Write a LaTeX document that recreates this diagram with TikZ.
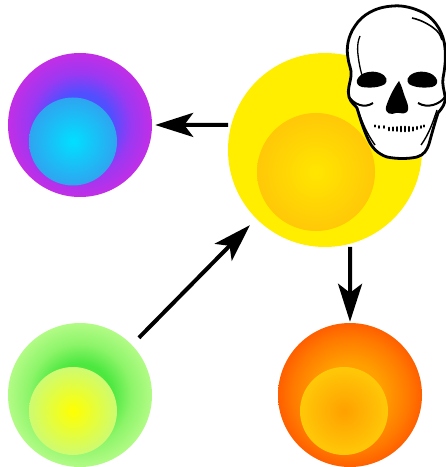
\documentclass[tikz,border=0pt]{standalone}
\usetikzlibrary{arrows.meta}
\definecolor{pA}{HTML}{C22EE6}\definecolor{pB}{HTML}{9C38F2}\definecolor{pC}{HTML}{4F50FF}
\definecolor{cA}{HTML}{00E0FF}\definecolor{cB}{HTML}{2FA4F0}
\definecolor{gA}{HTML}{B2FB86}\definecolor{gB}{HTML}{8EF56A}\definecolor{gC}{HTML}{4CE840}
\definecolor{lA}{HTML}{FFFF00}\definecolor{lB}{HTML}{CDFB72}
\definecolor{oA}{HTML}{FF5F00}\definecolor{oB}{HTML}{FF7A00}\definecolor{oC}{HTML}{FFA000}
\definecolor{qA}{HTML}{FFA000}\definecolor{qB}{HTML}{FFC808}
\definecolor{yA}{HTML}{FFEE00}\definecolor{zA}{HTML}{FFE600}\definecolor{zB}{HTML}{FFC808}
\pgfdeclareradialshading{purpleball}{\pgfpoint{0bp}{0bp}}{color(0bp)=(pC);color(11bp)=(pC);color(18bp)=(pB);color(25bp)=(pA);color(50bp)=(pA)}
\pgfdeclareradialshading{cyanball}{\pgfpoint{0bp}{0bp}}{color(0bp)=(cA);color(25bp)=(cB);color(50bp)=(cB)}
\pgfdeclareradialshading{greenball}{\pgfpoint{0bp}{0bp}}{color(0bp)=(gC);color(11bp)=(gC);color(18bp)=(gB);color(25bp)=(gA);color(50bp)=(gA)}
\pgfdeclareradialshading{limeball}{\pgfpoint{0bp}{0bp}}{color(0bp)=(lA);color(25bp)=(lB);color(50bp)=(lB)}
\pgfdeclareradialshading{orangeball}{\pgfpoint{0bp}{0bp}}{color(0bp)=(oC);color(11bp)=(oC);color(20bp)=(oB);color(25bp)=(oA);color(50bp)=(oA)}
\pgfdeclareradialshading{amberball}{\pgfpoint{0bp}{0bp}}{color(0bp)=(qA);color(25bp)=(qB);color(50bp)=(qB)}
\pgfdeclareradialshading{goldball}{\pgfpoint{0bp}{0bp}}{color(0bp)=(zA);color(25bp)=(zB);color(50bp)=(zB)}
\tikzset{
  bigball/.style={circle,inner sep=0pt,minimum size=144bp},
  smallball/.style={circle,inner sep=0pt,minimum size=88bp},
  link/.style={line width=4bp,black,-{Stealth[length=38bp,width=24bp,inset=9bp]}},
}
\begin{document}
\begin{tikzpicture}[x=1bp,y=-1bp]
\useasboundingbox (0,0) rectangle (446,467);
\node[bigball,shading=purpleball] (purple) at (80,125) {};
\node[smallball,shading=cyanball] (cyan) at (73,141.5) {};
\node[bigball,shading=greenball] (green) at (80,395) {};
\node[smallball,shading=limeball] (lime) at (73,411) {};
\node[bigball,shading=orangeball] (orange) at (350,395) {};
\node[smallball,shading=amberball] (amber) at (344,411) {};
\node[circle,inner sep=0pt,minimum size=194bp,fill=yA] (yellow) at (325,150) {};
\node[circle,inner sep=0pt,minimum size=118bp,shading=goldball] (gold) at (316,172) {};
\draw[link,shorten <=3bp,shorten >=3bp] (yellow.165) -- (purple.east);
\draw[link,shorten <=10bp,shorten >=9bp] (green.44) -- (yellow.225);
\draw[link,shorten <=3bp,shorten >=1bp] (yellow.-75) -- (orange.north);
% skull
\draw[fill=white,line width=2.8bp,line join=round]
  (393,6) .. controls (375,7) and (362,15) .. (355,26)
  .. controls (348,36) and (346,48) .. (348,58)
  .. controls (349,66) and (352,70) .. (351,76)
  .. controls (350,84) and (347,90) .. (349,97)
  .. controls (351,103) and (355,105) .. (357,108)
  .. controls (360,118) and (363,128) .. (368,139)
  .. controls (372,148) and (378,154) .. (387,157)
  .. controls (397,159) and (408,159) .. (417,157)
  .. controls (424,155) and (427,150) .. (429,144)
  .. controls (432,133) and (435,122) .. (438,113)
  .. controls (442,108) and (446,104) .. (445,96)
  .. controls (444,90) and (442,84) .. (443,78)
  .. controls (445,68) and (446,58) .. (445,48)
  .. controls (444,34) and (436,20) .. (424,13)
  .. controls (414,8) and (403,5) .. (393,6) -- cycle;
\fill (357,80) .. controls (360,72) and (372,70) .. (380,73)
  .. controls (387,76) and (388,81) .. (385,84)
  .. controls (379,88) and (369,88) .. (362,87)
  .. controls (358,86) and (356,83) .. (357,80) -- cycle;
\fill (437,80) .. controls (434,72) and (422,70) .. (414,73)
  .. controls (407,76) and (406,81) .. (409,84)
  .. controls (415,88) and (425,88) .. (432,87)
  .. controls (436,86) and (438,83) .. (437,80) -- cycle;
\fill (399,81) .. controls (393,89) and (388,100) .. (386,107)
  .. controls (385,114) and (391,115) .. (396,113)
  .. controls (399,112) and (403,115) .. (407,112)
  .. controls (410,109) and (407,102) .. (405,97)
  .. controls (403,92) and (402,86) .. (399,81) -- cycle;
\draw[line width=1.3bp] (360,36) .. controls (356,45) and (358,55) .. (359,62) .. controls (360,68) and (361,72) .. (362,75);
\draw[line width=1.6bp] (412,18) .. controls (422,20) and (432,26) .. (437,31) .. controls (440,34) and (441,37) .. (442,40);
\draw[line width=2bp] (349,97) .. controls (354,104) and (364,109) .. (373,103);
\draw[line width=2bp] (445,97) .. controls (440,104) and (428,109) .. (418,103);
\draw[line width=1.4bp] (358,110) .. controls (362,122) and (367,134) .. (375,145);
\draw[line width=1.4bp] (437,110) .. controls (433,122) and (429,134) .. (421,145);
\foreach \tx/\ty/\th in {375/126/1.2,379/127/1.5,384/127/1.5,389/129/2.5,393/129/3,397/129/3.5,401/129/4.5,405/129/4.5,409/129/4,413/129/3,417/128/2,421/127/1.5,424/126/1.2}
  \draw[line width=2.2bp,line cap=round] (\tx,\ty-\th/2) -- (\tx,\ty+\th/2);
\end{tikzpicture}
\end{document}
